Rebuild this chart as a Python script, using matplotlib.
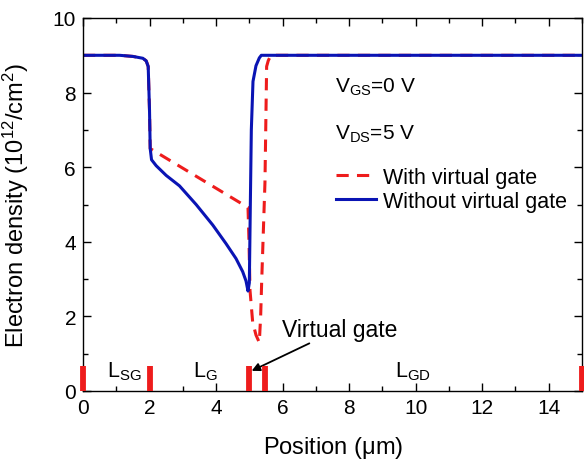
import matplotlib
matplotlib.use("Agg")
import matplotlib.pyplot as plt
from matplotlib.ticker import MultipleLocator

plt.rcParams['font.family'] = ['Liberation Sans', 'DejaVu Sans']
plt.rcParams['mathtext.fontset'] = 'custom'
plt.rcParams['mathtext.rm'] = 'Liberation Sans'
plt.rcParams['mathtext.it'] = 'Liberation Sans:italic'
plt.rcParams['mathtext.bf'] = 'Liberation Sans:bold'

# Electron density along the channel (10^12 cm^-2) vs position (um)
pos_without = [0, 1.1, 1.5, 1.8, 1.9, 1.96, 2.0, 2.02, 2.06, 2.2, 2.5, 2.9, 3.4, 3.9,
               4.3, 4.6, 4.8, 4.9, 4.96, 5.0, 5.03, 5.06, 5.11, 5.2, 5.3, 5.36, 15]
dens_without = [9.0, 9.0, 8.97, 8.92, 8.85, 8.7, 7.5, 6.5, 6.2, 6.04, 5.78, 5.5, 5.0, 4.45,
                3.95, 3.55, 3.2, 2.95, 2.68, 2.9, 5.0, 7.0, 8.3, 8.72, 8.93, 9.0, 9.0]

pos_with = [0, 1.1, 1.5, 1.8, 1.9, 1.96, 2.0, 2.02, 4.96, 4.99, 5.02, 5.1, 5.2, 5.3,
            5.34, 5.37, 5.42, 5.47, 5.52, 5.57, 5.65, 15]
dens_with = [9.0, 9.0, 8.97, 8.92, 8.85, 8.7, 7.5, 6.5, 4.92, 4.0, 2.7, 1.85, 1.5, 1.3,
             2.0, 2.9, 4.25, 5.6, 8.7, 8.86, 9.0, 9.0]

# Electrode / region boundaries marked along the x axis
boundaries = [0, 2, 4.98, 5.46, 15]
region_labels = [r'$\mathregular{L_{SG}}$', r'$\mathregular{L_{G}}$', r'$\mathregular{L_{GD}}$']
region_label_x = [1.23, 3.67, 9.92]

xticks = [0, 2, 4, 6, 8, 10, 12, 14]
yticks = [0, 2, 4, 6, 8, 10]

RED = '#ee1c1c'
BLUE = '#0a14b4'

fig = plt.figure(figsize=(5.84, 4.64), dpi=100)
ax = fig.add_axes([83 / 584, 1 - 392 / 464, 499 / 584, 373 / 464])

ax.plot(pos_with, dens_with, color=RED, lw=2.2, dashes=(4, 2.7),
        label='With virtual gate')
ax.plot(pos_without, dens_without, color=BLUE, lw=2.2,
        label='Without virtual gate')

for b in boundaries:
    ax.plot([b, b], [0, 0.67], color=RED, lw=4.2, solid_capstyle='butt',
            clip_on=False, zorder=5)

for lab, lx in zip(region_labels, region_label_x):
    ax.text(lx, 0.4, lab, fontsize=15.5, ha='center', va='baseline')

ax.annotate('Virtual gate', xy=(5.07, 0.54), xytext=(5.97, 1.66),
            fontsize=16.5, ha='left', va='center',
            arrowprops=dict(arrowstyle='-|>', color='black', lw=1.3,
                            mutation_scale=12, shrinkA=0, shrinkB=0))

ax.text(7.57, 8.02, r'$\mathregular{V_{GS}}$=0 V', fontsize=15, ha='left', va='baseline')
ax.text(7.57, 6.76, r'$\mathregular{V_{DS}}$=5 V', fontsize=15, ha='left', va='baseline')

ax.legend(loc='upper left', bbox_to_anchor=(336 / 584, 1 - 168 / 464),
          bbox_transform=fig.transFigure, frameon=False, fontsize=15.5,
          handlelength=1.85, handletextpad=0.35, labelspacing=0.12,
          borderpad=0, borderaxespad=0)

ax.set_xlim(0, 15)
ax.set_ylim(0, 10)
ax.set_xticks(xticks)
ax.set_yticks(yticks)
ax.xaxis.set_minor_locator(MultipleLocator(1))
ax.yaxis.set_minor_locator(MultipleLocator(1))
ax.tick_params(which='both', direction='in', top=True, right=True,
               labelsize=15, width=1)
ax.tick_params(which='major', length=6, pad=5)
ax.tick_params(which='minor', length=3.5)
for s in ax.spines.values():
    s.set_linewidth(1)

ax.set_xlabel(r'Position ($\mathregular{\mu}$m)', fontsize=17)
ax.set_ylabel(r'Electron density (10$^{\mathregular{12}}$/cm$^{\mathregular{2}}$)', fontsize=17)
ax.xaxis.set_label_coords(0.501, -0.115)
ax.yaxis.set_label_coords(-0.104, 0.5)

fig.savefig('out.png', dpi=100)
